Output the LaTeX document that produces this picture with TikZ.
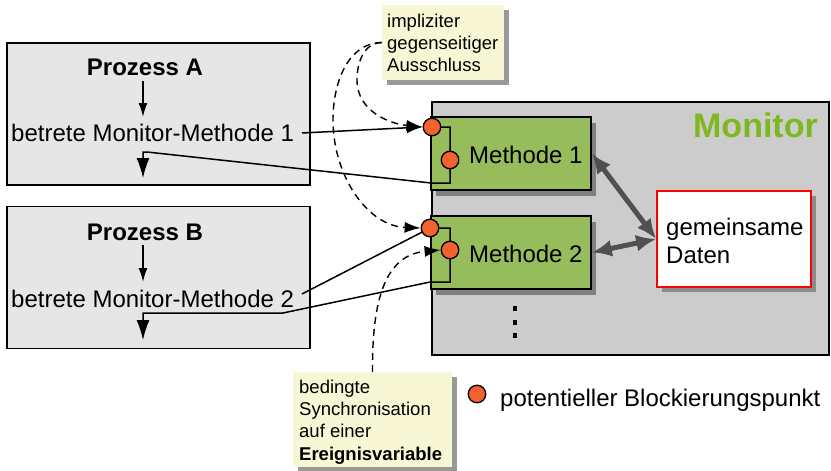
\documentclass[tikz,border=0pt]{standalone}
\usepackage{fontspec}
\setmainfont{Liberation Sans}
\usetikzlibrary{arrows.meta,shadows}
\definecolor{procfill}{HTML}{E6E6E6}
\definecolor{monfill}{HTML}{CCCCCC}
\definecolor{methfill}{HTML}{96BC5C}
\definecolor{montext}{HTML}{7DB81E}
\definecolor{blockc}{HTML}{F2622E}
\definecolor{notefill}{HTML}{F7F7D5}
\definecolor{arrgray}{HTML}{505050}
\begin{document}
\begin{tikzpicture}[x=1pt,y=-1pt,
  procbox/.style={draw, line width=1.5pt, fill=procfill, minimum width=303pt, minimum height=142pt, inner sep=0},
  monbox/.style={draw, line width=1.5pt, fill=monfill, minimum width=397pt, minimum height=253pt, inner sep=0},
  methbox/.style={draw, line width=1.5pt, fill=methfill, minimum width=160pt, minimum height=73pt, inner sep=0,
     drop shadow={shadow xshift=5pt, shadow yshift=-6pt, fill=black!50, opacity=1}},
  databox/.style={draw=red, line width=1.6pt, fill=white, minimum width=154pt, minimum height=96pt, inner sep=0,
     drop shadow={shadow xshift=5pt, shadow yshift=-5pt, fill=black!45, opacity=1}},
  notebox/.style={fill=notefill, inner sep=0,
     drop shadow={shadow xshift=5pt, shadow yshift=-5pt, fill=black!40, opacity=1}},
  blk/.style={circle, draw, line width=1.3pt, fill=blockc, minimum size=17.5pt, inner sep=0},
  dotsq/.style={fill=black, minimum size=4.5pt, inner sep=0},
  txt/.style={font=\fontsize{24}{28}\selectfont, inner sep=0, anchor=base west},
  hb/.style={font=\fontsize{24}{28}\selectfont\bfseries, inner sep=0, anchor=base},
  mtxt/.style={font=\fontsize{34}{40}\selectfont\bfseries, text=montext, inner sep=0, anchor=base east},
  multitxt/.style={font=\fontsize{24}{28}\selectfont, inner sep=0, anchor=north west, align=left},
  notetxt/.style={font=\fontsize{18.5}{22.3}\selectfont, inner sep=0, anchor=north west, align=left},
  conn/.style={line width=1.5pt},
  tipS/.style={-{Latex[length=14pt,width=9pt]}},
  tipM/.style={-{Latex[length=16pt,width=11pt]}},
  tipL/.style={-{Latex[length=20pt,width=13pt]}},
  dashline/.style={line width=1.4pt, dash pattern=on 7pt off 5pt},
  bigarrow/.style={draw=arrgray, line width=5pt, {Latex[length=20pt,width=17pt]}-{Latex[length=20pt,width=17pt]}}
]
\useasboundingbox (0,0) rectangle (831,471);

% boxes
\node[procbox] (procA) at (158.5,114) {};
\node[procbox] (procB) at (158.5,277.5) {};
\node[monbox] (mon) at (630.5,228.5) {};
\node[notebox, minimum width=122pt, minimum height=75pt] (n1) at (443,42.5) {};
\node[notebox, minimum width=159pt, minimum height=95pt] (n2) at (372.5,419.5) {};
\node[methbox] (m1) at (511,153.5) {};
\node[methbox] (m2) at (511,252.5) {};
\node[databox] (data) at (734,239) {};

% texts
\node[hb] (pa) at (145,75) {Prozess A};
\node[txt] (ta) at (11,141.5) {betrete Monitor-Methode 1};
\node[hb] (pb) at (145,240) {Prozess B};
\node[txt] (tb) at (11,307) {betrete Monitor-Methode 2};
\node[txt] (mt1) at (469,163) {Methode 1};
\node[txt] (mt2) at (469,262) {Methode 2};
\node[mtxt] (montxt) at (818,137) {Monitor};
\node[multitxt] (dtxt) at (666,218) {gemeinsame\\Daten};
\node[notetxt] (n1txt) at (387,13.5) {impliziter\\gegenseitiger\\Ausschluss};
\node[notetxt] (n2txt) at (299,379.5) {bedingte\\Synchronisation\\auf einer\\\textbf{Ereignisvariable}};
\node[txt] (lt) at (500,406) {potentieller Blockierungspunkt};

% dots
\node[dotsq] (d1) at (515,308.5) {};
\node[dotsq] (d2) at (515,322.5) {};
\node[dotsq] (d3) at (515,335.5) {};

% coordinates
\coordinate (a1s) at (143,81);  \coordinate (a1e) at (143,117);
\coordinate (a2e) at (143,178);
\coordinate (b1s) at (143,245); \coordinate (b1e) at (143,282);
\coordinate (b2e) at (143,340);
\coordinate (l1s) at (302,133);
\coordinate (l2s) at (302,294);
\coordinate (c11p) at (432,127);
\coordinate (c12p) at (450,160);
\coordinate (c21p) at (430,228);
\coordinate (c22p) at (450,250);

% process arrows
\draw[conn, tipS] (a1s) -- (a1e);
\draw[conn, tipS] (b1s) -- (b1e);

% brackets and return paths
\draw[conn, tipL, line join=miter] (c11p) -- (450,127) -- (450,183) -- (431,183) -- (147,152) -- (143,152) -- (a2e);
\draw[conn, tipL, line join=miter] (c21p) -- (450,228) -- (450,282) -- (430,282) -- (283,313) -- (143,313) -- (b2e);

% calls
\draw[conn] (l2s) -- (c21p);

% circles
\node[blk] (c11) at (c11p) {};
\node[blk] (c12) at (c12p) {};
\node[blk] (c21) at (c21p) {};
\node[blk] (c22) at (c22p) {};
\node[blk] (lc) at (477,394) {};

\draw[conn, tipM] (l1s) -- (c11.west);

% dashed notes
\draw[dashline, tipM] (n1.west) .. controls (364,43) and (357,62) .. (357,80) .. controls (357,112) and (391,124) .. (c11.west);
\draw[dashline, tipM] (n1.west) .. controls (347,43) and (333,84) .. (333,120) .. controls (333,175) and (367,226) .. (c21.west);
\draw[dashline, tipM] (n2.north) .. controls (372,300) and (385,255) .. (c22.west);

% data arrows
\draw[bigarrow] (m1.east) -- (data.west);
\draw[bigarrow] (m2.east) -- (data.west);
\end{tikzpicture}
\end{document}
